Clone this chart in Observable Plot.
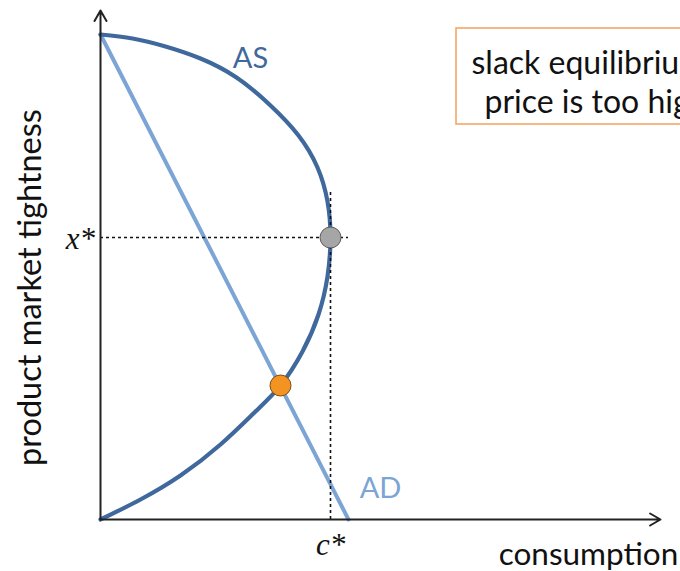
<!DOCTYPE html>
<html>
<head>
<meta charset="utf-8">
<script src="https://cdn.jsdelivr.net/npm/d3@7"></script>
<script src="https://cdn.jsdelivr.net/npm/@observablehq/plot@0.6"></script>
<style>
  html, body { margin: 0; padding: 0; background: #fff; overflow: hidden; }
  #chart svg { display: block; overflow: hidden; }
</style>
</head>
<body>
<div id="chart"></div>
<script>
// AS curve (consumption, product market tightness)
const asX = [0, 0.40, 0.80, 1.20, 1.55, 1.80, 2.02, 2.18, 2.27, 2.30, 2.27, 2.17, 1.98, 1.70, 1.36, 1.00, 0.65, 0.32, 0];
const asY = [0, 0.20, 0.44, 0.75, 1.08, 1.34, 1.68, 2.05, 2.43, 2.82, 3.18, 3.52, 3.84, 4.14, 4.42, 4.61, 4.73, 4.81, 4.85];
// AD line endpoints
const adX = [0, 2.48];
const adY = [4.85, 0];
// equilibria
const slackEq = {c: 1.80, x: 1.34};
const efficientEq = {c: 2.30, x: 2.82};
// labels
const curveLabels = ["AS", "AD"];
const starLabels = ["x*", "c*"];
const axisLabels = ["consumption", "product market tightness"];
const boxLines = ["slack equilibrium:", "price is too high"];

const asData = asX.map((v, i) => ({c: v, x: asY[i]}));
const adData = adX.map((v, i) => ({c: v, x: adY[i]}));

const font = "Lato, 'Open Sans', sans-serif";
const serif = "'Liberation Serif', 'DejaVu Serif', serif";

const plot = Plot.plot({
  width: 680,
  height: 571,
  marginLeft: 100,
  marginRight: 0,
  marginTop: 0,
  marginBottom: 52,
  x: {domain: [0, 5.8], axis: null},
  y: {domain: [0, 5.19], axis: null},
  style: {fontFamily: font, background: "white"},
  marks: [
    // text box
    Plot.rect([0], {x1: 3.56, x2: 6.6, y1: 3.95, y2: 4.91, fill: "white", stroke: "#f4a15a", strokeWidth: 1.5}),
    Plot.text([boxLines[0]], {x: 3.71, y: 4.56, text: d => d, textAnchor: "start", fontSize: 32, fill: "#111"}),
    Plot.text([boxLines[1]], {x: 3.84, y: 4.17, text: d => d, textAnchor: "start", fontSize: 32, fill: "#111"}),
    // AD
    Plot.line(adData, {x: "c", y: "x", stroke: "#7ca5d5", strokeWidth: 4}),
    // AS
    Plot.line(asData, {x: "c", y: "x", stroke: "#3f689c", strokeWidth: 4.2, curve: "natural"}),
    // dotted guides
    Plot.ruleY([efficientEq.x], {x1: 0, x2: 2.48, stroke: "#111", strokeWidth: 1.6, strokeDasharray: "3,3"}),
    Plot.ruleX([efficientEq.c], {y1: 0, y2: 3.27, stroke: "#111", strokeWidth: 1.6, strokeDasharray: "3,3"}),
    // axes with arrows
    Plot.arrow([0], {x1: 0, y1: 0, x2: 0, y2: 5.09, stroke: "#222", strokeWidth: 2, headLength: 9}),
    Plot.arrow([0], {x1: 0, y1: 0, x2: 5.6, y2: 0, stroke: "#222", strokeWidth: 2, headLength: 9}),
    // equilibrium points
    Plot.dot([efficientEq], {x: "c", y: "x", r: 10.5, fill: "#a6a6a6", stroke: "#5a5a5a", strokeWidth: 1}),
    Plot.dot([slackEq], {x: "c", y: "x", r: 10.5, fill: "#f39322", stroke: "#7a4a12", strokeWidth: 1}),
    // curve labels
    Plot.text([curveLabels[0]], {x: 1.50, y: 4.61, text: d => d, fontSize: 29, fill: "#3f689c"}),
    Plot.text([curveLabels[1]], {x: 2.80, y: 0.31, text: d => d, fontSize: 29, fill: "#7ca5d5"}),
    // star labels
    Plot.text([starLabels[0]], {x: -0.055, y: 2.80, text: d => d, textAnchor: "end", fontSize: 31, fontStyle: "italic", fontFamily: serif, fill: "#111"}),
    Plot.text([starLabels[1]], {x: 2.30, y: -0.26, text: d => d, fontSize: 31, fontStyle: "italic", fontFamily: serif, fill: "#111"}),
    // axis titles
    Plot.text([axisLabels[0]], {x: 4.88, y: -0.35, text: d => d, fontSize: 31.5, fill: "#111"}),
    Plot.text([axisLabels[1]], {x: -0.70, y: 2.32, text: d => d, rotate: -90, fontSize: 32.5, fill: "#111"})
  ]
});
document.getElementById("chart").appendChild(plot);
</script>
</body>
</html>
